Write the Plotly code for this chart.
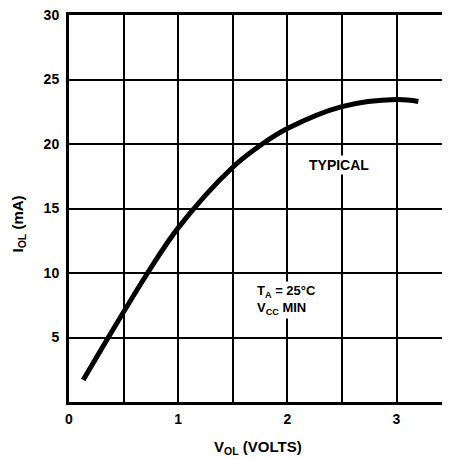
import plotly.graph_objects as go

# Data
v_ol = [0.13, 0.36, 0.72, 1.0, 1.5, 1.77, 2.0, 2.5, 3.0, 3.2]
i_ol = [1.7, 5.0, 10.0, 13.5, 18.2, 20.0, 21.2, 22.9, 23.45, 23.3]

x_grid = [0, 0.5, 1, 1.5, 2, 2.5, 3, 3.5]
x_labels = ["0", "", "1", "", "2", "", "3", ""]
y_grid = [5, 10, 15, 20, 25, 30]
y_labels = ["5", "10", "15", "20", "25", "30"]

FONT = "Liberation Sans, Arial, sans-serif"

# page body has an 8px margin; compensate so the plot lands where the reference has it
W, H = 442, 452
L, T, B, R = 61, 7, 58, 0
PLOT_X0, PLOT_Y1 = 69, 402
PW, PH = W - L - R, H - T - B

fig = go.Figure()
fig.add_trace(go.Scatter(
    x=v_ol, y=i_ol, mode="lines",
    line=dict(color="black", width=5, shape="spline", smoothing=1.0),
    hoverinfo="skip", showlegend=False,
))

fig.update_layout(
    width=W, height=H,
    margin=dict(l=L, r=R, t=T, b=B),
    paper_bgcolor="white", plot_bgcolor="white",
    font=dict(family=FONT, color="black", size=14),
    xaxis=dict(
        range=[0, 3.49], tickmode="array", tickvals=x_grid, ticktext=x_labels,
        showgrid=True, gridcolor="black", gridwidth=1.5,
        showline=True, linecolor="black", linewidth=3, mirror=True,
        ticks="", zeroline=False, ticklabelstandoff=2, automargin=False,
        ticklabeloverflow="allow",
        tickfont=dict(family=FONT, size=14, weight="bold"),
    ),
    yaxis=dict(
        range=[0, 30], tickmode="array", tickvals=y_grid, ticktext=y_labels,
        showgrid=True, gridcolor="black", gridwidth=1.5,
        showline=True, linecolor="black", linewidth=3, mirror=False,
        ticks="", zeroline=False, ticklabelstandoff=4, automargin=False,
        ticklabeloverflow="allow",
        tickfont=dict(family=FONT, size=14, weight="bold"),
    ),
)

fig.add_annotation(
    text="TYPICAL", x=2.47, y=18.4, xref="x", yref="y", showarrow=False,
    font=dict(family=FONT, size=14, weight="bold"), bgcolor="white",
)
fig.add_annotation(
    text="T<sub>A</sub> = 25°C<br>V<sub>CC</sub> MIN", x=1.7, y=7.9, xref="x", yref="y",
    showarrow=False, xanchor="left", align="left",
    font=dict(family=FONT, size=13, weight="bold"), bgcolor="white",
)

def px_to_paper(px, py):
    return (px - PLOT_X0) / PW, (PLOT_Y1 - py) / PH

ax, ay = px_to_paper(6, 224)
fig.add_annotation(
    text="I<sub>OL</sub> (mA)", x=ax, y=ay, xref="paper", yref="paper",
    showarrow=False, textangle=-90,
    font=dict(family=FONT, size=15, weight="bold"),
)
bx, by = px_to_paper(258, 437)
fig.add_annotation(
    text="V<sub>OL</sub> (VOLTS)", x=bx, y=by, xref="paper", yref="paper",
    showarrow=False, yanchor="top", borderpad=0,
    font=dict(family=FONT, size=15, weight="bold"),
)

fig.write_html("out.html")
